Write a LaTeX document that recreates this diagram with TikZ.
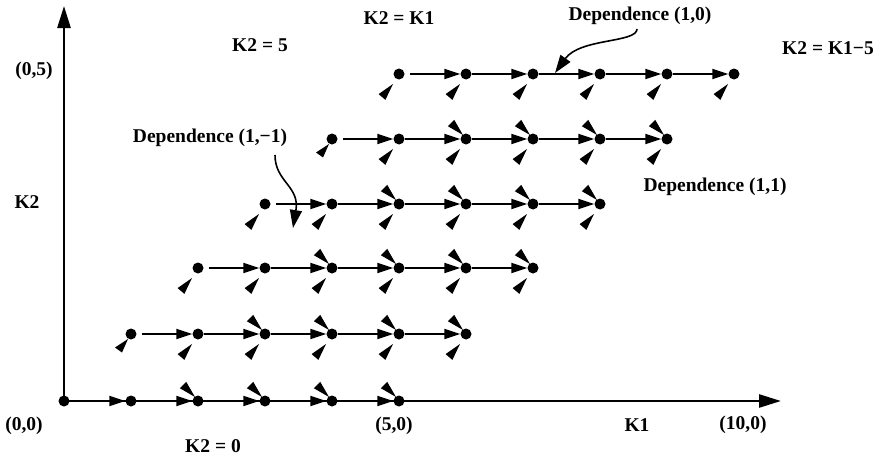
\documentclass[tikz,border=0pt]{standalone}
\usepackage{fontspec}
\setmainfont{Liberation Serif}
\usetikzlibrary{arrows.meta,calc}
\tikzset{
  llw/.pic={\fill (-6,10) -- (-13.6,25.9) -- (-20.4,20.1) -- cycle;},
  llwnear/.pic={\fill (-3,5) -- (-9,18.5) -- (-16,13.5) -- cycle;},
  ulw/.pic={\fill (-3,-4) -- (-11.8,-19.2) -- (-18.2,-12.8) -- cycle;},
}
\begin{document}
\begin{tikzpicture}[x=1pt,y=-1pt,
  dot/.style={circle,fill=black,inner sep=0pt,minimum size=11pt},
  harrow/.style={line width=1.8pt,-{Triangle[length=16pt,width=10pt]}},
  axis/.style={line width=2.6pt,-{Triangle[length=22pt,width=13pt]}},
  lbl/.style={font=\bfseries\fontsize{19.5}{19.5}\selectfont,inner sep=0pt},
  leader/.style={line width=1.6pt,-{Triangle[length=18pt,width=12pt]}}
]
\useasboundingbox (0,0) rectangle (881,455);
% grid points
\foreach \r/\yy in {0/401,1/334,2/268,3/204,4/139,5/74}{
  \foreach \i in {0,...,5}{
    \node[dot] (p-\r-\i) at ({64+67*(\r+\i)},\yy) {};
  }
}
% axes
\coordinate (xend) at (781,401);
\coordinate (yend) at (64,6);
\draw[axis] (p-0-0.center) -- (xend);
\draw[axis] (p-0-0.center) -- (yend);
% horizontal dependences (1,0)
\foreach \r in {0,...,5}{
  \foreach \i [evaluate=\i as \j using int(\i+1)] in {1,...,4}{
    \draw[harrow] (p-\r-\i) -- (p-\r-\j);
  }
}
\draw[harrow] (p-0-0) -- (p-0-1);
\foreach \r in {1,...,5}{
  \draw[harrow,shorten <=5pt] (p-\r-0) -- (p-\r-1);
}
% lower-left wedges (dependence (1,1))
\foreach \r in {1,...,5}{
  \foreach \i in {1,...,5}{
    \pic at (p-\r-\i.center) {llw};
  }
}
\pic at (p-1-0.center) {llwnear};
\pic at (p-2-0.center) {llw};
\pic at (p-3-0.center) {llw};
\pic at (p-4-0.center) {llwnear};
\pic at (p-5-0.center) {llw};
% upper-left wedges (dependence (1,-1))
\foreach \r in {0,...,4}{
  \foreach \i in {2,...,5}{
    \pic at (p-\r-\i.center) {ulw};
  }
}
% labels
\node[lbl] (l05) at (34,71) {(0,5)};
\node[lbl] (lk2) at (27,202) {K2};
\node[lbl] (l00) at (24,426) {(0,0)};
\node[lbl] (l50) at (394,426) {(5,0)};
\node[lbl] (lk1) at (637,425) {K1};
\node[lbl] (l100) at (743,425) {(10,0)};
\node[lbl] (lz) at (213,446) {K2 = 0};
\node[lbl] (l5) at (260,45) {K2 = 5};
\node[lbl] (lkk) at (399,18) {K2 = K1};
\node[lbl] (lkk5) at (828,48) {K2 = K1−5};
\node[lbl] (d10) at (640,16) {Dependence (1,0)};
\node[lbl] (dm1) at (210,138) {Dependence (1,−1)};
\node[lbl] (d11) at (715,187) {Dependence (1,1)};
% leaders
\coordinate (d10s) at (637,29);
\coordinate (d10e) at (555,73);
\draw[leader] (d10s) .. controls (637,43) and (580,38) .. (d10e);
\coordinate (dm1s) at (275,155);
\coordinate (dm1e) at (293,228);
\draw[leader] (dm1s) .. controls (275,182) and (300,186) .. (dm1e);
\end{tikzpicture}
\end{document}
